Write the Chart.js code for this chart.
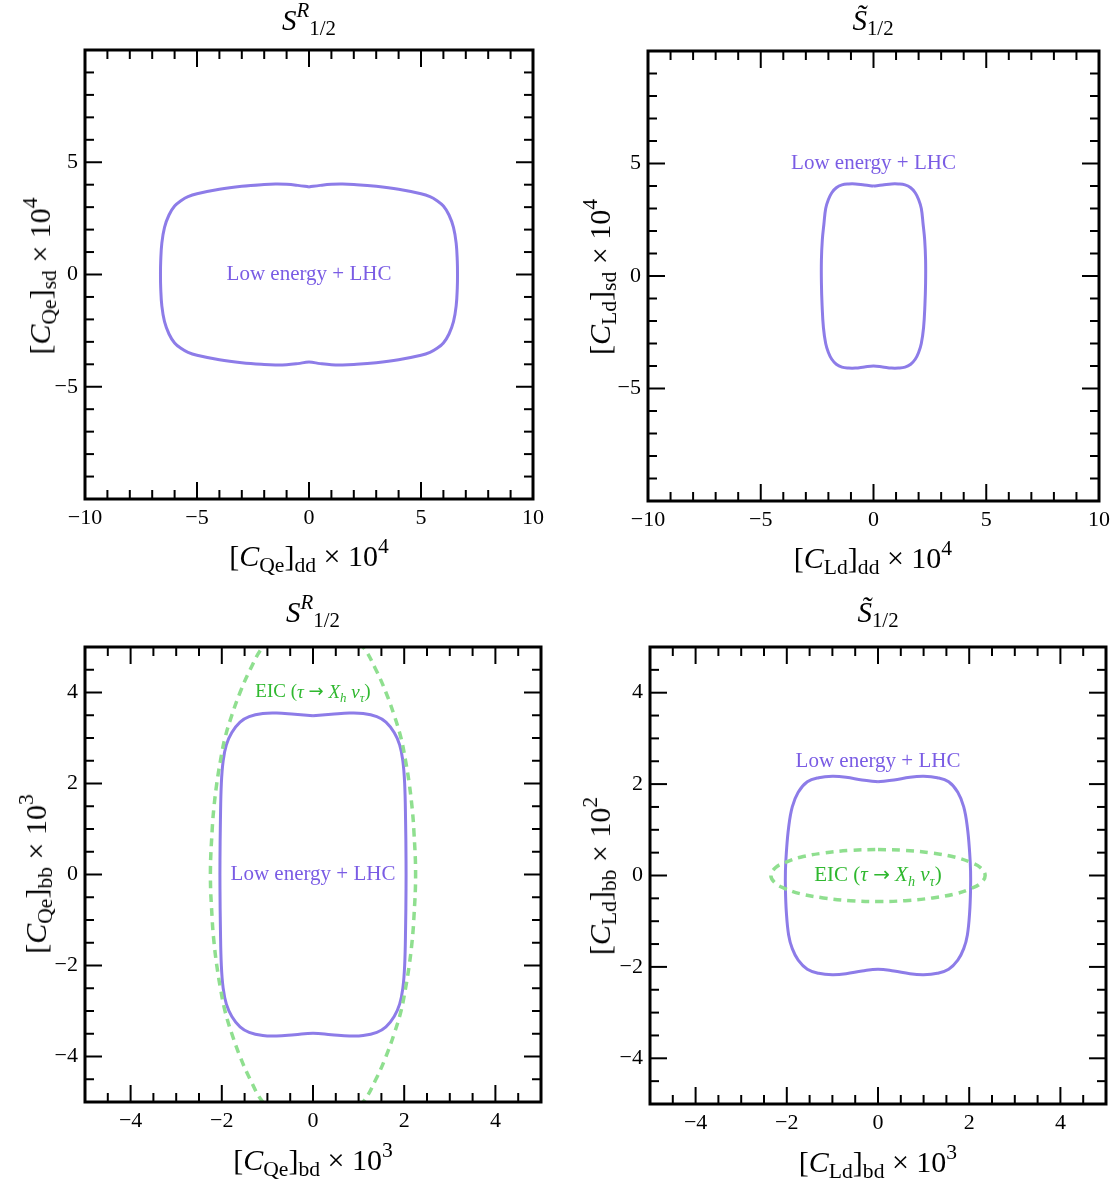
<!DOCTYPE html>
<html>
<head>
<meta charset="utf-8">
<title>Low energy + LHC vs EIC</title>
<script src="https://cdn.jsdelivr.net/npm/chart.js@4.4.0/dist/chart.umd.min.js"></script>
<style>
  html, body { margin: 0; padding: 0; background: #fff; }
  #page { position: relative; width: 1116px; height: 1182px; overflow: hidden;
          font-family: "Liberation Serif", "Times New Roman", serif; color: #000; }
  canvas { position: absolute; }
  .lbl { position: absolute; white-space: nowrap; line-height: 1; transform: translate(-50%, -50%); }
  .ttl { font-size: 29px; }
  .ax { font-size: 30px; }
  .rot { transform: translate(-50%, -50%) rotate(-90deg); }
  .lbl sub, .lbl sup { font-size: 0.72em; line-height: 0; }
  .lbl sub { vertical-align: -0.28em; }
  .lbl sup { vertical-align: 0.6em; }
</style>
</head>
<body>
<div id="page">
  <canvas id="cTL" width="560" height="590" style="left:0;top:0"></canvas>
  <canvas id="cTR" width="556" height="590" style="left:560px;top:0"></canvas>
  <canvas id="cBL" width="560" height="592" style="left:0;top:590px"></canvas>
  <canvas id="cBR" width="556" height="592" style="left:560px;top:590px"></canvas>

  <!-- títulos dos painéis -->
  <div class="lbl ttl" style="left:309px;top:20px"><i>S</i><sup><i>R</i></sup><sub>1/2</sub></div>
  <div class="lbl ttl" style="left:873px;top:20px"><i>S&#771;</i><sub>1/2</sub></div>
  <div class="lbl ttl" style="left:313px;top:612px"><i>S</i><sup><i>R</i></sup><sub>1/2</sub></div>
  <div class="lbl ttl" style="left:878px;top:612px"><i>S&#771;</i><sub>1/2</sub></div>

  <!-- títulos dos eixos -->
  <div class="lbl ax" style="left:309px;top:556px">[<i>C</i><sub>Qe</sub>]<sub>dd</sub> &times; 10<sup>4</sup></div>
  <div class="lbl ax rot" style="left:40px;top:276px">[<i>C</i><sub>Qe</sub>]<sub>sd</sub> &times; 10<sup>4</sup></div>
  <div class="lbl ax" style="left:873px;top:558px">[<i>C</i><sub>Ld</sub>]<sub>dd</sub> &times; 10<sup>4</sup></div>
  <div class="lbl ax rot" style="left:600px;top:277px">[<i>C</i><sub>Ld</sub>]<sub>sd</sub> &times; 10<sup>4</sup></div>
  <div class="lbl ax" style="left:313px;top:1160px">[<i>C</i><sub>Qe</sub>]<sub>bd</sub> &times; 10<sup>3</sup></div>
  <div class="lbl ax rot" style="left:36px;top:874px">[<i>C</i><sub>Qe</sub>]<sub>bb</sub> &times; 10<sup>3</sup></div>
  <div class="lbl ax" style="left:878px;top:1162px">[<i>C</i><sub>Ld</sub>]<sub>bd</sub> &times; 10<sup>3</sup></div>
  <div class="lbl ax rot" style="left:600px;top:876px">[<i>C</i><sub>Ld</sub>]<sub>bb</sub> &times; 10<sup>2</sup></div>
</div>

<script>
// Contornos (em unidades dos eixos)
// S^R_1/2: [C_Qe]_dd x [C_Qe]_sd (x 10^4)
const qeSdX = [0, 0.5, 1.0, 1.5, 2.0, 3.0, 4.0, 5.0, 5.4, 5.7, 6.0, 6.25, 6.45, 6.57, 6.62, 6.63, 6.62, 6.57, 6.45, 6.25, 6.0, 5.7, 5.4, 5.0, 4.0, 3.0, 2.0, 1.5, 1.0, 0.5, 0,
  -0.5, -1.0, -1.5, -2.0, -3.0, -4.0, -5.0, -5.4, -5.7, -6.0, -6.25, -6.45, -6.57, -6.62, -6.63, -6.62, -6.57, -6.45, -6.25, -6.0, -5.7, -5.4, -5.0, -4.0, -3.0, -2.0, -1.5, -1.0, -0.5, 0];
const qeSdY = [3.90, 3.97, 4.02, 4.03, 4.01, 3.93, 3.80, 3.60, 3.47, 3.30, 3.05, 2.65, 2.10, 1.40, 0.60, 0, -0.60, -1.40, -2.10, -2.65, -3.05, -3.30, -3.47, -3.60, -3.80, -3.93, -4.01, -4.03, -4.02, -3.97, -3.90,
  -3.97, -4.02, -4.03, -4.01, -3.93, -3.80, -3.60, -3.47, -3.30, -3.05, -2.65, -2.10, -1.40, -0.60, 0, 0.60, 1.40, 2.10, 2.65, 3.05, 3.30, 3.47, 3.60, 3.80, 3.93, 4.01, 4.03, 4.02, 3.97, 3.90];

// S~_1/2: [C_Ld]_dd x [C_Ld]_sd (x 10^4)
const ldSdX = [0, 0.4, 0.8, 1.1, 1.4, 1.65, 1.85, 2.0, 2.12, 2.2, 2.27, 2.31, 2.31, 2.28, 2.22, 2.12, 2.0, 1.85, 1.65, 1.4, 1.1, 0.8, 0.4, 0,
  -0.4, -0.8, -1.1, -1.4, -1.65, -1.85, -2.0, -2.12, -2.22, -2.28, -2.31, -2.31, -2.27, -2.2, -2.12, -2.0, -1.85, -1.65, -1.4, -1.1, -0.8, -0.4, 0];
const ldSdY = [4.00, 4.04, 4.09, 4.09, 4.05, 3.92, 3.70, 3.40, 3.00, 2.30, 1.60, 0.70, -0.30, -1.30, -2.30, -3.00, -3.40, -3.70, -3.92, -4.05, -4.09, -4.09, -4.04, -4.00,
  -4.04, -4.09, -4.09, -4.05, -3.92, -3.70, -3.40, -3.00, -2.30, -1.30, -0.30, 0.70, 1.60, 2.30, 3.00, 3.40, 3.70, 3.92, 4.05, 4.09, 4.09, 4.04, 4.00];

// S^R_1/2: [C_Qe]_bd x [C_Qe]_bb (x 10^3)
const qeBbX = [0, 0.4, 0.8, 1.1, 1.4, 1.6, 1.78, 1.9, 1.97, 2.01, 2.03, 2.04, 2.04, 2.03, 2.01, 1.97, 1.9, 1.78, 1.6, 1.4, 1.1, 0.8, 0.4, 0,
  -0.4, -0.8, -1.1, -1.4, -1.6, -1.78, -1.9, -1.97, -2.01, -2.03, -2.04, -2.04, -2.03, -2.01, -1.97, -1.9, -1.78, -1.6, -1.4, -1.1, -0.8, -0.4, 0];
const qeBbY = [3.49, 3.52, 3.55, 3.54, 3.47, 3.35, 3.12, 2.85, 2.50, 2.00, 1.20, 0.30, -0.30, -1.20, -2.00, -2.50, -2.85, -3.12, -3.35, -3.47, -3.54, -3.55, -3.52, -3.49,
  -3.52, -3.55, -3.54, -3.47, -3.35, -3.12, -2.85, -2.50, -2.00, -1.20, -0.30, 0.30, 1.20, 2.00, 2.50, 2.85, 3.12, 3.35, 3.47, 3.54, 3.55, 3.52, 3.49];
// EIC (tau -> X_h nu_tau), sai pelo topo e pela base
const eicQeX = [0, 0.6, 1.1, 1.38, 1.6, 1.78, 1.93, 2.03, 2.11, 2.17, 2.21, 2.25, 2.21, 2.17, 2.11, 2.03, 1.93, 1.78, 1.6, 1.38, 1.1, 0.6, 0,
  -0.6, -1.1, -1.38, -1.6, -1.78, -1.93, -2.03, -2.11, -2.17, -2.21, -2.25, -2.21, -2.17, -2.11, -2.03, -1.93, -1.78, -1.6, -1.38, -1.1, -0.6, 0];
const eicQeY = [5.73, 5.5, 5.0, 4.5, 4.0, 3.5, 3.0, 2.5, 2.0, 1.5, 1.0, 0, -1.0, -1.5, -2.0, -2.5, -3.0, -3.5, -4.0, -4.5, -5.0, -5.5, -5.73,
  -5.5, -5.0, -4.5, -4.0, -3.5, -3.0, -2.5, -2.0, -1.5, -1.0, 0, 1.0, 1.5, 2.0, 2.5, 3.0, 3.5, 4.0, 4.5, 5.0, 5.5, 5.73];

// S~_1/2: [C_Ld]_bd (x 10^3) x [C_Ld]_bb (x 10^2)
const ldBbX = [0, 0.35, 0.7, 1.0, 1.3, 1.55, 1.75, 1.88, 1.96, 2.01, 2.03, 2.03, 2.01, 1.96, 1.88, 1.75, 1.55, 1.3, 1.0, 0.7, 0.35, 0,
  -0.35, -0.7, -1.0, -1.3, -1.55, -1.75, -1.88, -1.96, -2.01, -2.03, -2.03, -2.01, -1.96, -1.88, -1.75, -1.55, -1.3, -1.0, -0.7, -0.35, 0];
const ldBbY = [2.05, 2.09, 2.15, 2.17, 2.14, 2.05, 1.82, 1.50, 1.05, 0.50, 0.10, -0.30, -0.80, -1.30, -1.60, -1.85, -2.05, -2.14, -2.17, -2.15, -2.09, -2.05,
  -2.09, -2.15, -2.17, -2.14, -2.05, -1.85, -1.60, -1.30, -0.80, -0.30, 0.10, 0.50, 1.05, 1.50, 1.82, 2.05, 2.14, 2.17, 2.15, 2.09, 2.05];
const eicLdX = [0, 0.6, 1.2, 1.7, 2.05, 2.25, 2.35, 2.25, 2.05, 1.7, 1.2, 0.6, 0, -0.6, -1.2, -1.7, -2.05, -2.25, -2.35, -2.25, -2.05, -1.7, -1.2, -0.6, 0];
const eicLdY = [0.57, 0.55, 0.49, 0.40, 0.28, 0.17, 0, -0.17, -0.28, -0.40, -0.49, -0.55, -0.57, -0.55, -0.49, -0.40, -0.28, -0.17, 0, 0.17, 0.28, 0.40, 0.49, 0.55, 0.57];

// Rótulos dos ticks
const topXLabels = [-10, -5, 0, 5, 10];
const topYLabels = [-5, 0, 5];
const bottomLabels = [-4, -2, 0, 2, 4];

const colors = {
    purple: '#8d7ce8',
    purpleText: '#7a5ce4',
    green: '#8fdf8f',
    greenText: '#2fb82f'
};

Chart.defaults.font.family = '"Liberation Serif", "Times New Roman", serif';
Chart.defaults.color = '#000';

const pts = (xs, ys) => xs.map((x, i) => ({ x: x, y: ys[i] }));
const fmt = v => v < 0 ? '\u2212' + Math.abs(v) : String(v);
const near = (a, b) => Math.abs(a - b) < 1e-6;
const isMajor = (v, m) => near(v / m, Math.round(v / m));

const lowText = [{ t: 'Low energy + LHC' }];
const eicText = [
    { t: 'EIC (' }, { t: '\u03c4', it: true }, { t: ' ' }, { t: '\u2192', fam: '"DejaVu Sans"', k: 0.95 }, { t: ' ' },
    { t: 'X', it: true }, { t: 'h', it: true, sub: true }, { t: ' ' }, { t: '\u03bd', it: true },
    { t: '\u03c4', it: true, sub: true }, { t: ')' }
];

// Moldura com ticks para dentro nos quatro lados
const framePlugin = {
    id: 'frame',
    afterDraw(chart, args, opts) {
        const { ctx, chartArea: a, scales } = chart;
        const line = (x1, y1, x2, y2) => { ctx.beginPath(); ctx.moveTo(x1, y1); ctx.lineTo(x2, y2); ctx.stroke(); };
        ctx.save();
        ctx.strokeStyle = '#000';
        ctx.lineWidth = 2;
        scales.x.ticks.forEach(t => {
            const px = scales.x.getPixelForValue(t.value);
            const len = isMajor(t.value, opts.major) ? 17 : 9;
            line(px, a.bottom, px, a.bottom - len);
            line(px, a.top, px, a.top + len);
        });
        scales.y.ticks.forEach(t => {
            const py = scales.y.getPixelForValue(t.value);
            const len = isMajor(t.value, opts.major) ? 17 : 9;
            line(a.left, py, a.left + len, py);
            line(a.right, py, a.right - len, py);
        });
        ctx.lineWidth = 3;
        ctx.strokeRect(a.left, a.top, a.right - a.left, a.bottom - a.top);
        ctx.restore();
    }
};

// Textos dentro da área do gráfico
const notesPlugin = {
    id: 'notes',
    afterDatasetsDraw(chart, args, opts) {
        const { ctx, scales } = chart;
        (opts.items || []).forEach(n => {
            const fontOf = p => (p.it ? 'italic ' : '') + (n.size * (p.sub ? 0.68 : (p.k || 1))) + 'px ' + (p.fam || '"Liberation Serif"');
            let w = 0;
            n.parts.forEach(p => { ctx.font = fontOf(p); w += ctx.measureText(p.t).width; });
            let cx = scales.x.getPixelForValue(n.x) - w / 2;
            const cy = scales.y.getPixelForValue(n.y);
            ctx.save();
            ctx.fillStyle = n.color;
            ctx.textBaseline = 'middle';
            n.parts.forEach(p => {
                ctx.font = fontOf(p);
                ctx.fillText(p.t, cx, cy + (p.sub ? n.size * 0.3 : 0));
                cx += ctx.measureText(p.t).width;
            });
            ctx.restore();
        });
    }
};

function contour(data, color, dashed) {
    return {
        data: data,
        showLine: true,
        borderColor: color,
        borderWidth: dashed ? 3.5 : 3,
        borderDash: dashed ? [8, 6] : [],
        pointRadius: 0,
        tension: 0.4,
        fill: false,
        order: dashed ? 0 : 1
    };
}

function makePanel(p) {
    const yw = 50, xh = 40;
    const pad = {
        left: p.frame[0] - p.box[0] - yw,
        top: p.frame[1] - p.box[1],
        right: p.box[0] + p.box[2] - p.frame[2],
        bottom: p.box[1] + p.box[3] - p.frame[3] - xh
    };
    const tickFont = { size: 22, family: '"Liberation Serif", serif' };
    new Chart(document.getElementById(p.id), {
        type: 'scatter',
        data: { datasets: p.datasets },
        options: {
            responsive: false,
            animation: false,
            devicePixelRatio: 1,
            layout: { padding: pad },
            elements: { line: { capBezierPoints: false } },
            plugins: {
                legend: { display: false },
                tooltip: { enabled: false },
                frame: { major: p.major },
                notes: { items: p.notes }
            },
            scales: {
                x: {
                    type: 'linear', min: -p.range, max: p.range,
                    grid: { display: false, drawTicks: false },
                    border: { display: false },
                    afterFit: s => { s.height = xh; },
                    ticks: {
                        stepSize: p.minor, autoSkip: false, minRotation: 0, maxRotation: 0,
                        padding: 6, font: tickFont, color: '#000',
                        callback: v => p.xLabels.some(l => near(l, v)) ? fmt(v) : ''
                    }
                },
                y: {
                    type: 'linear', min: -p.range, max: p.range,
                    grid: { display: false, drawTicks: false },
                    border: { display: false },
                    afterFit: s => { s.width = yw; },
                    ticks: {
                        stepSize: p.minor, autoSkip: false, padding: 7, font: tickFont, color: '#000',
                        callback: v => p.yLabels.some(l => near(l, v)) ? fmt(v) : ''
                    }
                }
            }
        },
        plugins: [framePlugin, notesPlugin]
    });
}

document.addEventListener('DOMContentLoaded', function() {
    makePanel({
        id: 'cTL', box: [0, 0, 560, 590], frame: [85, 50, 533, 499],
        range: 10, minor: 1, major: 5, xLabels: topXLabels, yLabels: topYLabels,
        datasets: [contour(pts(qeSdX, qeSdY), colors.purple, false)],
        notes: [{ parts: lowText, x: 0, y: 0, color: colors.purpleText, size: 21 }]
    });
    makePanel({
        id: 'cTR', box: [560, 0, 556, 590], frame: [648, 51, 1099, 501],
        range: 10, minor: 1, major: 5, xLabels: topXLabels, yLabels: topYLabels,
        datasets: [contour(pts(ldSdX, ldSdY), colors.purple, false)],
        notes: [{ parts: lowText, x: 0, y: 5.0, color: colors.purpleText, size: 21 }]
    });
    makePanel({
        id: 'cBL', box: [0, 590, 560, 592], frame: [85, 647, 541, 1102],
        range: 5, minor: 0.5, major: 2, xLabels: bottomLabels, yLabels: bottomLabels,
        datasets: [contour(pts(eicQeX, eicQeY), colors.green, true), contour(pts(qeBbX, qeBbY), colors.purple, false)],
        notes: [
            { parts: eicText, x: 0, y: 4.0, color: colors.greenText, size: 19 },
            { parts: lowText, x: 0, y: 0, color: colors.purpleText, size: 21 }
        ]
    });
    makePanel({
        id: 'cBR', box: [560, 590, 556, 592], frame: [650, 647, 1106, 1104],
        range: 5, minor: 0.5, major: 2, xLabels: bottomLabels, yLabels: bottomLabels,
        datasets: [contour(pts(eicLdX, eicLdY), colors.green, true), contour(pts(ldBbX, ldBbY), colors.purple, false)],
        notes: [
            { parts: lowText, x: 0, y: 2.5, color: colors.purpleText, size: 21 },
            { parts: eicText, x: 0, y: 0, color: colors.greenText, size: 21 }
        ]
    });
});
</script>
</body>
</html>
